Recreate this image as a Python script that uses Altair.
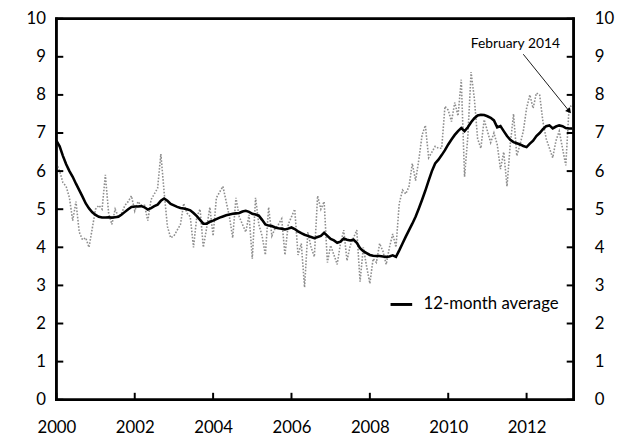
import altair as alt
import pandas as pd

# ---- data ----
start_year = 2000
monthly = [
    6.2, 6.0, 5.7, 5.6, 5.3, 4.7, 5.2, 4.4, 4.2, 4.25, 4.0, 4.5,
    5.0, 5.1, 5.0, 5.9, 4.9, 4.6, 5.0, 4.8, 4.9, 5.1, 5.2, 5.35,
    4.95, 5.2, 5.1, 5.1, 4.7, 5.25, 5.4, 5.55, 6.45, 5.45, 4.55, 4.25,
    4.3, 4.45, 4.6, 5.15, 4.9, 4.8, 4.0, 4.8, 5.0, 4.0, 4.5, 5.05,
    4.3, 5.3, 5.45, 5.6, 5.2, 4.8, 4.25, 5.3, 4.8, 4.6, 4.4, 4.85,
    3.7, 5.3, 4.6, 4.3, 3.8, 5.05, 4.3, 4.5, 4.6, 4.75, 3.8, 4.6,
    4.8, 5.0, 3.8, 4.1, 2.95, 4.4, 4.0, 3.75, 5.35, 5.0, 5.2, 3.6,
    4.05, 3.8, 3.55, 4.1, 4.45, 3.65, 4.05, 4.25, 4.45, 3.1, 4.0, 3.5,
    3.05, 3.7, 3.6, 4.1, 3.9, 3.55, 4.0, 4.35, 4.0, 5.15, 5.5, 5.4,
    5.6, 6.2, 5.75, 6.3, 6.95, 7.2, 6.35, 6.5, 6.65, 6.6, 6.6, 7.7,
    7.6, 7.3, 7.8, 7.45, 8.4, 5.85, 6.9, 8.6, 7.9, 6.85, 6.6, 7.35,
    7.05, 6.75, 7.0, 6.7, 6.05, 6.5, 5.6, 6.7, 7.5, 6.4, 6.7, 7.05,
    7.65, 8.0, 7.65, 8.05, 8.0, 7.3, 6.85, 6.6, 6.35, 6.8, 7.05, 6.6,
    6.15, 7.65, 7.75,
]
avg12 = [
    6.80, 6.65, 6.40, 6.18, 6.00, 5.85, 5.67, 5.50, 5.33, 5.15, 5.02, 4.92,
    4.85, 4.80, 4.78, 4.78, 4.79, 4.78, 4.79, 4.80, 4.86, 4.93, 5.00, 5.06,
    5.07, 5.07, 5.08, 5.05, 4.99, 5.03, 5.08, 5.12, 5.22, 5.28, 5.22, 5.14,
    5.10, 5.06, 5.03, 5.02, 5.00, 4.97, 4.90, 4.82, 4.72, 4.62, 4.62, 4.67,
    4.70, 4.74, 4.78, 4.81, 4.84, 4.86, 4.88, 4.89, 4.90, 4.94, 4.96, 4.93,
    4.88, 4.86, 4.83, 4.72, 4.60, 4.57, 4.56, 4.52, 4.50, 4.49, 4.47, 4.49,
    4.52, 4.48, 4.42, 4.37, 4.33, 4.30, 4.27, 4.24, 4.27, 4.30, 4.38, 4.30,
    4.22, 4.18, 4.12, 4.15, 4.23, 4.20, 4.18, 4.20, 4.12, 3.98, 3.90, 3.85,
    3.80, 3.78, 3.77, 3.77, 3.76, 3.75, 3.76, 3.79, 3.75, 3.92, 4.10, 4.28,
    4.45, 4.62, 4.80, 5.02, 5.25, 5.49, 5.75, 6.00, 6.20, 6.30, 6.42, 6.55,
    6.70, 6.83, 6.95, 7.05, 7.13, 7.05, 7.15, 7.28, 7.39, 7.46, 7.48, 7.47,
    7.44, 7.40, 7.33, 7.15, 7.18, 7.05, 6.92, 6.82, 6.76, 6.73, 6.70, 6.66,
    6.63, 6.72, 6.80, 6.92, 7.00, 7.10, 7.18, 7.20, 7.12, 7.17, 7.20, 7.18,
    7.13, 7.12, 7.12,
]
x_ticks = [2000, 2002, 2004, 2006, 2008, 2010, 2012]
y_ticks = [0, 1, 2, 3, 4, 5, 6, 7, 8, 9, 10]
x_domain = [2000, 2013.2]
y_domain = [0, 10]
legend_label = "12-month average"
annotation = "February 2014"

months = [start_year + i / 12 for i in range(len(monthly))]
df = pd.DataFrame({"t": months, "v": monthly, "a": avg12, "s": legend_label})
xt = pd.DataFrame({"t": x_ticks})
yt = pd.DataFrame({"v": y_ticks})
one = pd.DataFrame({"k": [0]})

FONT = "Lato"
W, H = 524, 386
B = 1.3  # half frame thickness

common = dict(title=None, ticks=False, grid=False, domain=False, labelFont=FONT,
              labelFontSize=17, labelColor="black")
x_axis = alt.Axis(values=x_ticks, format="d", labelPadding=20, labelFlush=False, **common)
y_axis = alt.Axis(values=y_ticks, labelPadding=11, labelOverlap=False, **common)
y_axis_r = alt.Axis(values=y_ticks, orient="right", labelPadding=21, labelOverlap=False, **common)

xs = alt.Scale(domain=x_domain, nice=False, zero=False)
ys = alt.Scale(domain=y_domain, nice=False)

X = alt.X("t:Q", scale=xs, axis=x_axis)
Y = alt.Y("v:Q", scale=ys, axis=y_axis)
YA = alt.Y("a:Q", scale=ys, axis=y_axis)
Y_right = alt.Y("v:Q", scale=ys, axis=y_axis_r)

dotted = alt.Chart(df).mark_line(color="#8e8e8e", strokeDash=[1.6, 1.6], strokeWidth=1.6).encode(
    x=X, y=Y)

avg = alt.Chart(df).mark_line(strokeWidth=2.6).encode(
    x=X, y=YA,
    color=alt.Color("s:N", scale=alt.Scale(domain=[legend_label], range=["black"]),
                    legend=alt.Legend(title=None, orient="none", legendX=337, legendY=277,
                                      symbolType="stroke", symbolSize=480, symbolStrokeWidth=3,
                                      labelFontSize=17, labelFont=FONT, labelColor="black",
                                      labelOffset=10, padding=0)))


def bar(x0, x1, y0, y1):
    # frame edge as a thin filled rectangle
    return alt.Chart(one).mark_rect(color="black", opacity=1).encode(
        x=alt.value(x0), x2=alt.value(x1), y=alt.value(y0), y2=alt.value(y1))


frame = [
    bar(-B, W + B, -B, B),
    bar(-B, W + B, H - B, H + B),
    bar(-B, B, -B, H + B),
    bar(W - B, W + B, -B, H + B),
]

left_ticks = alt.Chart(yt).mark_rule(color="black", strokeWidth=2).encode(
    y=Y, x=alt.value(0), x2=alt.value(7))
bottom_ticks = alt.Chart(xt).mark_rule(color="black", strokeWidth=2).encode(
    x=X, y=alt.value(H), y2=alt.value(H - 7))
right_ticks = alt.Chart(yt).mark_rule(color="black", strokeWidth=2).encode(
    y=Y_right, x=alt.value(W - 7), x2=alt.value(W))

note = alt.Chart(pd.DataFrame({"label": [annotation]})).mark_text(
    font=FONT, fontSize=14, color="black", align="center", baseline="middle").encode(
    text="label:N", x=alt.value(465), y=alt.value(26))
arrow = alt.Chart(one).mark_rule(color="black", strokeWidth=0.9).encode(
    x=alt.value(473), y=alt.value(36), x2=alt.value(519), y2=alt.value(93))
head = alt.Chart(one).mark_point(
    shape="triangle", filled=True, color="black", size=40, angle=141, opacity=1).encode(
    x=alt.value(519), y=alt.value(93))

inner = alt.layer(dotted, avg, *frame, left_ticks, bottom_ticks, note, arrow, head)
chart = alt.layer(inner, right_ticks).resolve_scale(y="independent").properties(
    width=W, height=H, autosize="none", background="white",
    padding={"left": 49, "top": 8, "right": 48, "bottom": 40},
).configure_view(stroke="black", strokeWidth=2.5)

chart.save("out.html", embed_options={"renderer": "svg", "actions": False})
